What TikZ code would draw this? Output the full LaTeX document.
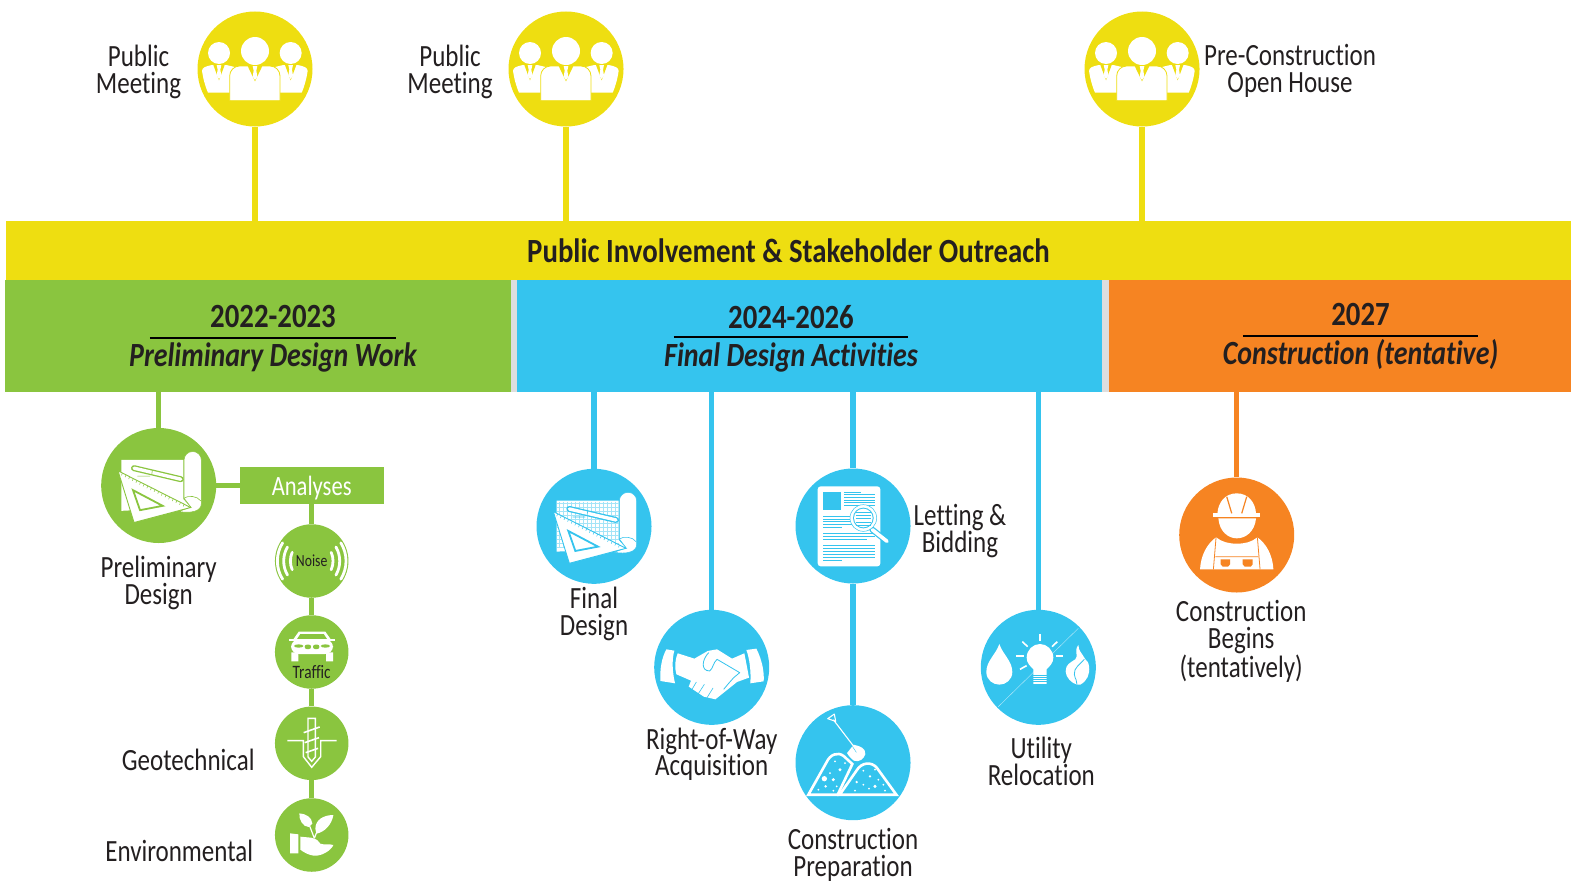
\documentclass[tikz,border=0pt]{standalone}
\usepackage{fontspec}
\setmainfont[FakeStretch=0.81, Ligatures=NoCommon, BoldFeatures={FakeStretch=0.85}, BoldItalicFeatures={FakeStretch=0.825}]{Carlito}
\usetikzlibrary{calc}
\definecolor{pubyel}{HTML}{EEDE11}
\definecolor{prelgreen}{HTML}{8AC53F}
\definecolor{finblue}{HTML}{35C4EE}
\definecolor{conorange}{HTML}{F68422}
\definecolor{inktext}{HTML}{231F20}
\definecolor{gapgrey}{HTML}{DEDEDE}
\tikzset{
    hub/.style = {circle, minimum size=115bp, inner sep=0pt},
    spot/.style = {circle, minimum size=73.5bp, inner sep=0pt, fill=prelgreen},
    bar/.style = {rectangle, inner sep=0pt, minimum height=112bp},
    stem/.style = {line width=5.5bp},
    lab/.style = {align=center, inner sep=0pt, text=inktext, font=\fontsize{31}{27}\selectfont},
    sublab/.style = {inner sep=0pt, text=inktext, font=\fontsize{19}{19}\selectfont},
    yearlab/.style = {inner sep=0pt, text=inktext, minimum height=41bp, font=\fontsize{34}{34}\selectfont\bfseries},
    worklab/.style = {inner sep=0pt, text=inktext, font=\fontsize{34}{34}\selectfont\bfseries\itshape},
    iconscope/.style = {x=0.3333bp, y=-0.3333bp, shift={(-174,-174)}},
    pics/people/.style = {code={
        \begin{scope}[iconscope]
        \fill[white] (66,126) circle (33) (281,126) circle (33) (174,120) circle (42);
        \fill[white] (15,180) .. controls (15,170) and (25,166) .. (45,162) -- (88,162) -- (113,168) -- (105,245) -- (33,245) .. controls (24,225) and (18,200) .. cycle;
        \fill[white] (332,180) .. controls (332,170) and (322,166) .. (302,162) -- (259,162) -- (234,168) -- (242,245) -- (314,245) .. controls (323,225) and (329,200) .. cycle;
        \filldraw[white, draw=#1, line width=.8bp] (98,269) -- (98,195) arc[start angle=180, end angle=270, radius=30]
            -- (219,165) arc[start angle=270, end angle=360, radius=30] -- (249,269) -- cycle;
        \foreach \cx/\cy/\wd in {174/165/22, 66/162/17, 281/162/17} {
            \fill[#1] (\cx-\wd,\cy) -- (\cx,\cy+46) -- (\cx+\wd,\cy) -- cycle;
            \fill[white] (\cx-7,\cy) -- (\cx+7,\cy) -- (\cx+4,\cy+14) -- (\cx+7,\cy+32) -- (\cx,\cy+42) -- (\cx-7,\cy+32) -- (\cx-4,\cy+14) -- cycle;
        }
        \end{scope}
    }},
    pics/plansheet/.style = {code={
        \begin{scope}[iconscope]
        \fill[white] (62,97) -- (248,97) -- (248,215) -- (270,240) -- (62,250) -- cycle;
        \end{scope}
    }},
    pics/plangrid/.style = {code={
        \begin{scope}[iconscope]
        \foreach \gx in {70,82,...,244} \draw[#1!45, line width=.3bp] (\gx,100) -- (\gx,240);
        \foreach \gy in {106,118,...,238} \draw[#1!45, line width=.3bp] (64,\gy) -- (248,\gy);
        \end{scope}
    }},
    pics/planrule/.style = {code={
        \begin{scope}[iconscope]
        \filldraw[white, draw=#1, line width=.5bp] (250,212) -- (250,98) arc[start angle=180, end angle=360, radius=26]
            -- (302,228) .. controls (302,252) and (270,258) .. (235,252) -- (270,238) -- cycle;
        \draw[#1, line width=.6bp] (250,212) .. controls (262,203) and (290,205) .. (300,220);
        \draw[#1, line width=6bp, line cap=round] (100,122) -- (240,155);
        \draw[white, line width=3.4bp, line cap=round] (100,122) -- (240,155);
        \draw[#1, line width=.6bp] (155,128) -- (153,142) (110,146) -- (148,146);
        \filldraw[white, draw=#1, line width=.9bp] (52,130) -- (270,240) -- (100,285) -- cycle;
        \foreach \tk in {.06,.11,...,.96}
            \draw[#1, line width=.5bp] ($(52,130)!\tk!(270,240)$) -- ++(-3,7);
        \filldraw[white, draw=#1, line width=1.8bp] (97,188) -- (186,235) -- (118,248) -- cycle;
        \end{scope}
    }},
    pics/shake/.style = {code={
        \begin{scope}[iconscope]
        \fill[white] (38,120) -- (62,124) .. controls (54,150) and (56,190) .. (64,222) -- (20,215) .. controls (18,180) and (24,145) .. cycle;
        \fill[white] (278,122) -- (308,118) .. controls (324,150) and (332,185) .. (330,216) -- (290,222) .. controls (292,185) and (288,150) .. cycle;
        \fill[white] (72,132) -- (122,148) -- (162,125) -- (190,120) -- (235,148) -- (272,132) -- (286,205) -- (250,218)
            -- (210,250) -- (185,270) -- (150,262) -- (105,232) -- (112,214) -- (68,195) .. controls (62,175) and (64,150) .. cycle;
        \draw[finblue, line width=.8bp, line join=round] (165,130) .. controls (145,150) and (140,185) .. (168,185) .. controls (178,178) and (178,160) .. (190,150) -- (258,190) -- (240,205) (240,205) -- (225,222) (225,222) -- (210,240);
        \draw[finblue, line width=.6bp] (128,218) -- (115,240) (152,225) -- (132,256) (178,236) -- (160,265);
        \end{scope}
    }},
    pics/sheetlens/.style = {code={
        \begin{scope}[iconscope]
        \fill[white, rounded corners=3] (68,55) rectangle (256,295);
        \fill[finblue] (84,72) rectangle (138,125);
        \foreach \ly/\lx in {72/198, 80/240, 88/240, 96/240, 104/240, 112/240}
            \draw[finblue, line width=.8bp] (148,\ly) -- (\lx,\ly);
        \foreach \ly/\lx in {146/240, 153/240, 160/240, 169/240, 177/140, 196/240, 205/240, 214/216, 232/240, 241/240, 250/240, 259/240, 268/240, 276/140}
            \draw[finblue, line width=.8bp] (84,\ly) -- (\lx,\ly);
        \draw[finblue, line width=6bp, line cap=round] (232,185) -- (276,220);
        \draw[white, line width=3.6bp, line cap=round] (232,185) -- (276,220);
        \filldraw[white, draw=finblue, line width=.5bp] (205,150) circle (40);
        \fill[finblue] (205,150) circle (31);
        \fill[white] (205,150) circle (28);
        \foreach \ly in {132,142,152,162,172}
            \draw[finblue, line width=.9bp] (182,\ly) -- (228,\ly);
        \end{scope}
    }},
    pics/dirtpile/.style = {code={
        \begin{scope}[iconscope]
        \draw[white, line width=2.6bp, line join=miter] (40,270) -- (95,172) .. controls (105,150) and (128,140) .. (146,154) -- (172,178) -- (128,270) -- cycle;
        \draw[white, line width=2.6bp, line join=miter] (134,270) -- (185,197) .. controls (200,172) and (230,170) .. (246,190) -- (304,270) -- cycle;
        \foreach \dx/\dy/\dr in {88/222/8, 120/170/3, 135/195/5, 115/225/5, 105/205/3, 92/245/4, 125/245/3, 70/255/3, 115/258/3, 150/175/3,
            205/198/3, 225/215/4, 240/195/3, 205/240/3, 185/232/4, 240/245/5, 222/252/3, 265/240/3, 180/258/3, 270/258/3, 250/225/3}
            \fill[white] (\dx,\dy) circle (\dr);
        \draw[white, line width=1.1bp] (115,45) -- (180,130);
        \draw[white, line width=1.1bp, line join=round] (98,42) -- (118,28) -- (122,50) -- cycle;
        \fill[white] (176,120) .. controls (195,124) and (212,130) .. (211,148) .. controls (208,162) and (192,174) .. (177,168) .. controls (168,162) and (160,152) .. (156,145) -- cycle;
        \draw[finblue, line width=.4bp] (172,125) -- (184,143);
        \end{scope}
    }},
    pics/utilities/.style = {code={
        \begin{scope}[iconscope]
        \draw[white!65!finblue, line width=.4bp] (54,292) -- (294,57);
        \fill[finblue] (150,215) rectangle (205,235);
        \fill[white] (57,104) .. controls (47,135) and (18,155) .. (18,188) .. controls (18,212) and (38,226) .. (57,226)
            .. controls (76,226) and (96,212) .. (96,188) .. controls (96,155) and (67,135) .. cycle;
        \fill[white] (159,180) .. controls (150,170) and (139,162) .. (139,145) .. controls (139,122) and (158,104) .. (179,104)
            .. controls (200,104) and (219,122) .. (219,145) .. controls (219,162) and (208,170) .. (199,180) -- (199,224) -- (159,224) -- cycle;
        \foreach \ly in {198,204,210,216}
            \draw[finblue, line width=.35bp] (159,\ly) -- (199,\ly);
        \foreach \ra/\rb/\rc/\rd in {179/74/179/95, 126/97/142/112, 231/97/215/112, 107/140/130/140, 226/140/249/140, 119/180/139/169}
            \draw[white, line width=1.6bp] (\ra,\rb) -- (\rc,\rd);
        \fill[white] (294,107) .. controls (280,125) and (296,140) .. (285,150) .. controls (270,160) and (256,165) .. (256,186)
            .. controls (256,205) and (275,222) .. (290,226) -- (300,226) .. controls (320,215) and (330,195) .. (326,170)
            .. controls (322,150) and (320,160) .. (312,145) .. controls (305,132) and (295,125) .. cycle;
        \draw[finblue, line width=.8bp] (312,150) .. controls (300,165) and (280,175) .. (282,195) .. controls (284,210) and (292,215) .. (290,226);
        \end{scope}
    }},
    pics/worker/.style = {code={
        \begin{scope}[iconscope]
        \fill[white] (116,110) .. controls (118,75) and (140,49) .. (174,49) .. controls (208,49) and (230,75) .. (232,110) -- cycle;
        \fill[white] (104,109) rectangle (244,121);
        \draw[conorange, line width=1.2bp] (144,59) -- (159,109) (204,59) -- (189,109);
        \fill[white] (119,124) .. controls (122,165) and (150,184) .. (174,184) .. controls (200,184) and (228,165) .. (232,124) -- cycle;
        \fill[white] (64,277) .. controls (66,235) and (85,200) .. (112,181) .. controls (130,195) and (150,200) .. (174,200)
            .. controls (200,200) and (218,195) .. (236,181) .. controls (263,200) and (282,235) .. (284,277) -- cycle;
        \draw[conorange, line width=.8bp] (112,181) -- (104,277) (236,181) -- (244,277) (110,239) -- (238,239);
        \fill[conorange] (126,247) -- (154,247) -- (154,262) -- (148,269) -- (132,269) -- (126,262) -- cycle;
        \fill[conorange] (192,247) -- (222,247) -- (222,262) -- (216,269) -- (198,269) -- (192,262) -- cycle;
        \end{scope}
    }},
    pics/noisewave/.style = {code={
        \begin{scope}[iconscope]
        \foreach \rr/\aa in {103/32, 84/30, 64/24} {
            \draw[white, line width=2.8bp, line cap=round] (174,174) ++(180-\aa:\rr) arc[start angle=180-\aa, end angle=180+\aa, radius=\rr];
            \draw[white, line width=2.8bp, line cap=round] (174,174) ++(-\aa:\rr) arc[start angle=-\aa, end angle=\aa, radius=\rr];
        }
        \end{scope}
    }},
    pics/car/.style = {code={
        \begin{scope}[iconscope]
        \fill[white] (135,113) -- (215,113) -- (234,140) -- (116,140) -- cycle;
        \fill[prelgreen] (140,120) -- (210,120) -- (222,138) -- (128,138) -- cycle;
        \fill[white, rounded corners=8] (112,136) rectangle (238,180);
        \fill[white] (106,136) rectangle (244,141);
        \fill[white] (113,175) rectangle (134,202) (217,175) rectangle (238,202);
        \fill[prelgreen] (135,156) ellipse (14 and 5) (215,156) ellipse (14 and 5);
        \fill[prelgreen, rounded corners=2] (153,152) rectangle (172,165) (178,152) rectangle (197,165);
        \end{scope}
    }},
    pics/drill/.style = {code={
        \begin{scope}[iconscope]
        \draw[white, line width=1.4bp] (101,166) -- (149,166) -- (149,214) -- (174,246) -- (201,214) -- (201,166) -- (249,166);
        \draw[white, line width=1.4bp] (163,99) -- (185,99) -- (185,215) -- (174,228) -- (163,215) -- cycle;
        \draw[white, line width=1.6bp] (150,142) -- (198,125) (153,172) -- (196,157) (156,202) -- (193,189);
        \end{scope}
    }},
    pics/sprout/.style = {code={
        \begin{scope}[iconscope]
        \fill[white] (109,169) -- (134,172) -- (134,229) -- (109,229) -- cycle;
        \fill[white] (140,179) -- (172,182) .. controls (190,186) and (195,192) .. (200,200) .. controls (215,205) and (228,200) .. (239,204)
            .. controls (232,220) and (205,238) .. (180,236) .. controls (165,234) and (150,226) .. (140,218) -- cycle;
        \fill[white] (137,109) .. controls (155,110) and (175,120) .. (176,140) -- (165,150) .. controls (148,150) and (135,128) .. cycle;
        \fill[white] (239,114) .. controls (210,114) and (185,128) .. (185,155) -- (188,170) .. controls (215,165) and (235,140) .. cycle;
        \draw[white, line width=1.2bp] (182,184) -- (166,142) (182,184) -- (188,168);
        \end{scope}
    }}
}
\begin{document}
\begin{tikzpicture}[x=1bp, y=-1bp, node distance=100bp]
    \useasboundingbox (0,0) rectangle (1571,880);
    \node [bar, fill=gapgrey, minimum width=1566bp] (band) at (788,335.5) {};
    \node [bar, fill=pubyel, minimum width=1565bp, minimum height=58.5bp, text height=25bp, text depth=0bp, font=\fontsize{34}{34}\selectfont\bfseries, text=inktext] (outreach) at (788.5,250.25) {Public Involvement \& Stakeholder Outreach};
    \node [bar, fill=prelgreen, minimum width=506bp] (pdbar) at (258,335.5) {};
    \node [bar, fill=finblue, minimum width=585bp, right of=pdbar, node distance=551.5bp] (fdbar) {};
    \node [bar, fill=conorange, minimum width=462bp, right of=fdbar, node distance=530.5bp] (cbar) {};

    % year headings
    \node [yearlab, minimum width=246bp] (year1) at (273,317) {2022-2023};
    \node [worklab, below of=year1, node distance=40bp] (work1) {Preliminary Design Work};
    \node [yearlab, minimum width=234bp, minimum height=40bp, right of=year1, node distance=518bp] (year2) {2024-2026};
    \node [worklab, below of=year2, node distance=40bp] (work2) {Final Design Activities};
    \node [yearlab, minimum width=235bp, right of=year2, node distance=569.5bp, yshift=2bp] (year3) {2027};
    \node [worklab, below of=year3, node distance=39bp] (work3) {Construction (tentative)};
    \draw [line width=1.6bp] (year1.south west) -- (year1.south east);
    \draw [line width=1.6bp] (year2.south west) -- (year2.south east);
    \draw [line width=1.6bp] (year3.south west) -- (year3.south east);

    % public meetings
    \node [hub, fill=pubyel] (meet1) at (255,69) {};
    \node [hub, fill=pubyel, right of=meet1, node distance=311bp] (meet2) {};
    \node [hub, fill=pubyel, right of=meet2, node distance=576bp] (meet3) {};
    \foreach \mm in {meet1,meet2,meet3} {
        \draw [stem, pubyel] (\mm) -- (outreach.north -| \mm);
        \pic at (\mm) {people=pubyel};
    }
    \node [lab, left of=meet1, node distance=116.5bp, yshift=-3bp] (publab1) {Public\\Meeting};
    \node [lab, left of=meet2, node distance=116bp, yshift=-3bp] (publab2) {Public\\Meeting};
    \node [lab, right of=meet3, node distance=148bp, yshift=-1.5bp] (publab3) {Pre-Construction\\Open House};

    % preliminary design
    \node [hub, fill=prelgreen, below of=pdbar, node distance=150bp, xshift=-99.3bp] (prelim) {};
    \node [rectangle, fill=prelgreen, text=white, inner sep=0pt, minimum width=144bp, minimum height=37bp, text height=19bp, text depth=0bp, font=\fontsize{28}{28}\selectfont, right of=prelim, node distance=153bp] (analyses) {Analyses};
    \node [spot, below of=analyses, node distance=75.5bp] (noise) {\fontsize{17}{17}\selectfont\color{inktext}Noise};
    \node [spot, below of=noise, node distance=91bp] (traffic) {};
    \node [spot, below of=traffic, node distance=91.3bp] (geotech) {};
    \node [spot, below of=geotech, node distance=91.7bp] (environ) {};
    \draw [stem, prelgreen] (pdbar.south -| prelim) -- (prelim);
    \draw [stem, prelgreen] (prelim) -- (analyses);
    \draw [stem, prelgreen] (analyses) -- (noise);
    \draw [stem, prelgreen] (noise) -- (traffic);
    \draw [stem, prelgreen] (traffic) -- (geotech);
    \draw [stem, prelgreen] (geotech) -- (environ);
    \pic at (prelim) {plansheet};
    \pic at (prelim) {planrule=prelgreen};
    \pic at (noise) {noisewave};
    \pic at (traffic) {car};
    \pic at (geotech) {drill};
    \pic at (environ) {sprout};
    \node [sublab, below of=traffic, node distance=20bp] (traffictxt) {Traffic};
    \node [lab, below of=prelim, node distance=97.5bp] (prelab) {Preliminary\\Design};
    \node [lab, left of=geotech, node distance=123.5bp, yshift=-17bp] (geolab) {Geotechnical};
    \node [lab, left of=environ, node distance=132.5bp, yshift=-16bp] (envlab) {Environmental};

    % final design
    \node [hub, fill=finblue, below of=fdbar, node distance=190.8bp, xshift=-215.5bp] (finald) {};
    \node [hub, fill=finblue, below of=fdbar, node distance=331.8bp, xshift=-97.8bp] (rightway) {};
    \node [hub, fill=finblue, below of=fdbar, node distance=190.5bp, xshift=43.5bp] (letting) {};
    \node [hub, fill=finblue, below of=letting, node distance=236.7bp] (prep) {};
    \node [hub, fill=finblue, below of=fdbar, node distance=331.8bp, xshift=228.8bp] (utility) {};
    \draw [stem, finblue] (fdbar.south -| finald) -- (finald);
    \draw [stem, finblue] (fdbar.south -| rightway) -- (rightway);
    \draw [stem, finblue] (fdbar.south -| letting) -- (letting);
    \draw [stem, finblue] (letting) -- (prep);
    \draw [stem, finblue] (fdbar.south -| utility) -- (utility);
    \pic at (finald) {plansheet};
    \pic at (finald) {plangrid=finblue};
    \pic at (finald) {planrule=finblue};
    \pic at (rightway) {shake};
    \pic at (letting) {sheetlens};
    \pic at (prep) {dirtpile};
    \pic at (utility) {utilities};
    \node [lab, below of=finald, node distance=87.5bp] (finlab) {Final\\Design};
    \node [lab, below of=rightway, node distance=87bp] (waylab) {Right-of-Way\\Acquisition};
    \node [lab, below of=prep, node distance=92.5bp] (preplab) {Construction\\Preparation};
    \node [lab, right of=letting, node distance=107bp, yshift=-5bp] (letlab) {Letting \&\\Bidding};
    \node [lab, below of=utility, node distance=94bp, xshift=3bp] (utillab) {Utility\\Relocation};

    % construction
    \node [hub, fill=conorange, below of=cbar, node distance=199.5bp, xshift=-103.3bp] (begins) {};
    \draw [stem, conorange] (cbar.south -| begins) -- (begins);
    \pic at (begins) {worker};
    \node [lab, below of=begins, node distance=106bp, xshift=4.5bp] (beglab) {Construction\\Begins\\(tentatively)};
\end{tikzpicture}
\end{document}
